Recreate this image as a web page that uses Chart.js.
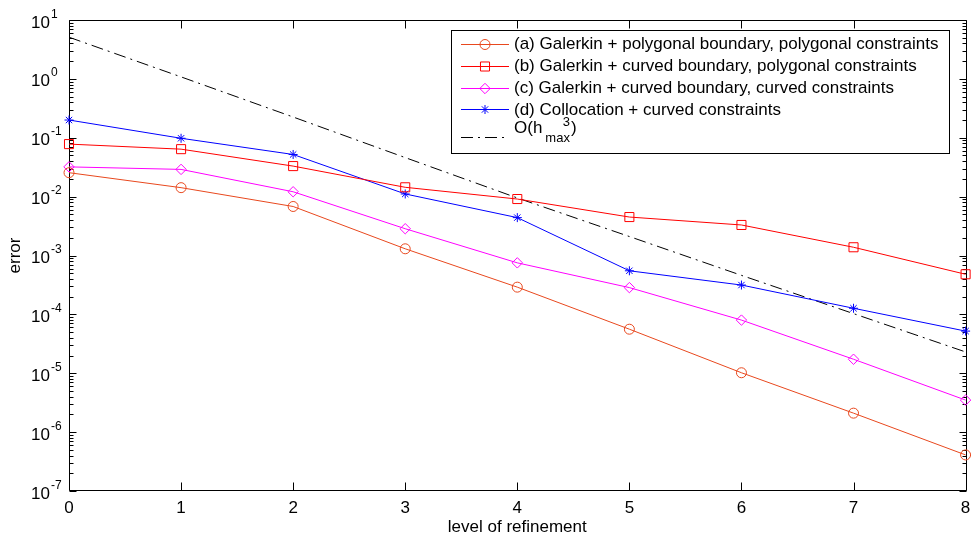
<!DOCTYPE html>
<html>
<head>
<meta charset="utf-8">
<style>
  html, body { margin: 0; padding: 0; background: #fff; }
</style>
<script src="https://cdn.jsdelivr.net/npm/chart.js@4.4.1/dist/chart.umd.min.js"></script>
</head>
<body>
<canvas id="errChart" width="973" height="537"></canvas>
<script>
// refinement levels and errors
const levels = [0, 1, 2, 3, 4, 5, 6, 7, 8];
const galerkinPolyPoly = [0.0255, 0.0142, 0.0068, 0.0013, 2.9e-4, 5.6e-5, 1.02e-5, 2.1e-6, 4.1e-7];
const galerkinCurvedPoly = [0.078, 0.064, 0.033, 0.0144, 0.0091, 0.0045, 0.0033, 0.00138, 4.8e-4];
const galerkinCurvedCurved = [0.032, 0.029, 0.0121, 0.00285, 7.5e-4, 2.85e-4, 8.0e-5, 1.73e-5, 3.5e-6];
const collocation = [0.2, 0.098, 0.052, 0.0111, 0.0044, 5.5e-4, 3.15e-4, 1.27e-4, 5.2e-5];
const orderRef = [5.1, 1.08, 0.225, 0.046, 0.0095, 0.0021, 4.6e-4, 1.03e-4, 2.3e-5];

const seriesNames = [
  '(a) Galerkin + polygonal boundary, polygonal constraints',
  '(b) Galerkin + curved boundary, polygonal constraints',
  '(c) Galerkin + curved boundary, curved constraints',
  '(d) Collocation + curved constraints'
];
const yExponents = [-7, -6, -5, -4, -3, -2, -1, 0, 1];

const FONT = '"Liberation Sans", Arial, Helvetica, sans-serif';
const DASHDOT = [12, 5, 2, 5];

function pts(vals) {
  return levels.map((l, i) => ({ x: l, y: vals[i] }));
}

function series(label, vals, color, style, r) {
  return {
    label: label,
    data: pts(vals),
    borderColor: color,
    borderWidth: 1,
    backgroundColor: 'rgba(0,0,0,0)',
    pointStyle: style,
    pointRadius: r,
    pointBorderColor: color,
    pointBackgroundColor: 'rgba(0,0,0,0)',
    pointBorderWidth: 1,
    tension: 0,
    clip: false
  };
}

function marker(ctx, style, x, y, r) {
  ctx.beginPath();
  if (style === 'circle') {
    ctx.arc(x, y, r, 0, Math.PI * 2);
  } else if (style === 'rect') {
    const s = r * Math.SQRT1_2;
    ctx.rect(x - s, y - s, 2 * s, 2 * s);
  } else if (style === 'rectRot') {
    ctx.moveTo(x - r, y); ctx.lineTo(x, y - r); ctx.lineTo(x + r, y); ctx.lineTo(x, y + r);
    ctx.closePath();
  } else if (style === 'star') {
    for (let k = 0; k < 4; k++) {
      const a = k * Math.PI / 4;
      ctx.moveTo(x - Math.cos(a) * r, y - Math.sin(a) * r);
      ctx.lineTo(x + Math.cos(a) * r, y + Math.sin(a) * r);
    }
  }
  ctx.stroke();
}

// matlab style box, inward ticks and tick labels
const axesPlugin = {
  id: 'matlabAxes',
  beforeDatasetsDraw(chart) {
    const { ctx, chartArea: a, scales: { x, y } } = chart;
    const L = Math.round(a.left) + 0.5, R = Math.round(a.right) + 0.5;
    const T = Math.round(a.top) + 0.5, B = Math.round(a.bottom) - 0.5;
    ctx.save();
    ctx.strokeStyle = '#000';
    ctx.lineWidth = 1;
    ctx.beginPath();
    ctx.rect(L, T, R - L, B - T);
    // x ticks
    levels.forEach(l => {
      const px = Math.round(x.getPixelForValue(l)) + 0.5;
      ctx.moveTo(px, B); ctx.lineTo(px, B - 8);
      ctx.moveTo(px, T); ctx.lineTo(px, T + 8);
    });
    // y ticks, major and minor
    yExponents.forEach(e => {
      const py = Math.round(y.getPixelForValue(Math.pow(10, e))) + 0.5;
      ctx.moveTo(L, py); ctx.lineTo(L + 7, py);
      ctx.moveTo(R, py); ctx.lineTo(R - 7, py);
      if (e < 1) {
        for (let k = 2; k <= 9; k++) {
          const pm = Math.round(y.getPixelForValue(k * Math.pow(10, e))) + 0.5;
          ctx.moveTo(L, pm); ctx.lineTo(L + 4, pm);
          ctx.moveTo(R, pm); ctx.lineTo(R - 4, pm);
        }
      }
    });
    ctx.stroke();

    ctx.fillStyle = '#000';
    ctx.textBaseline = 'alphabetic';
    // x tick labels
    ctx.font = '17px ' + FONT;
    ctx.textAlign = 'center';
    levels.forEach(l => {
      ctx.fillText(String(l), x.getPixelForValue(l), a.bottom + 21.5);
    });
    ctx.fillText('level of refinement', (a.left + a.right) / 2, a.bottom + 41);

    // y tick labels 10^e
    ctx.textAlign = 'left';
    yExponents.forEach(e => {
      const py = y.getPixelForValue(Math.pow(10, e));
      const x0 = a.left - 38;
      ctx.font = '17px ' + FONT;
      ctx.fillText('10', x0, py + 7.5);
      const w = ctx.measureText('10').width;
      ctx.font = '12px ' + FONT;
      ctx.fillText(String(e), x0 + w + 1, py - 2.5);
    });

    // y title
    ctx.save();
    ctx.translate(20, (a.top + a.bottom) / 2);
    ctx.rotate(-Math.PI / 2);
    ctx.font = '17px ' + FONT;
    ctx.textAlign = 'center';
    ctx.fillText('error', 0, 0);
    ctx.restore();
    ctx.restore();
  },
  afterDraw(chart) {
    const { ctx, chartArea: a } = chart;
    const ds = chart.data.datasets;
    ctx.save();
    ctx.font = '17px ' + FONT;
    let maxW = 0;
    seriesNames.forEach(s => { maxW = Math.max(maxW, ctx.measureText(s).width); });
    const right = Math.round(a.right) - 17 + 0.5;
    const top = Math.round(a.top) + 10 + 0.5;
    const left = Math.round(right - (maxW + 74));
    const left5 = left + 0.5;
    const h = 123;
    ctx.fillStyle = '#fff';
    ctx.fillRect(left5, top, right - left5, h);
    ctx.strokeStyle = '#000';
    ctx.lineWidth = 1;
    ctx.strokeRect(left5, top, right - left5, h);

    const textX = left + 63;
    ctx.textBaseline = 'middle';
    ctx.textAlign = 'left';
    for (let i = 0; i < 4; i++) {
      const d = ds[i];
      const ry = top + 13.5 + 21.8 * i;
      ctx.strokeStyle = d.borderColor;
      ctx.beginPath();
      ctx.moveTo(left + 10, Math.round(ry) + 0.5);
      ctx.lineTo(left + 58, Math.round(ry) + 0.5);
      ctx.stroke();
      marker(ctx, d.pointStyle, left + 34, Math.round(ry) + 0.5, d.pointRadius);
      ctx.fillStyle = '#000';
      ctx.fillText(seriesNames[i], textX, ry + 0.5);
    }
    // reference slope entry O(h^3_max)
    const ly = Math.round(top + 106) + 0.5;
    ctx.strokeStyle = '#000';
    ctx.setLineDash(DASHDOT);
    ctx.beginPath();
    ctx.moveTo(left + 10, ly);
    ctx.lineTo(left + 58, ly);
    ctx.stroke();
    ctx.setLineDash([]);
    const base = top + 102.5;
    ctx.textBaseline = 'alphabetic';
    ctx.fillStyle = '#000';
    ctx.font = '17px ' + FONT;
    ctx.fillText('O(h', textX, base);
    const x1 = textX + ctx.measureText('O(h').width + 3;
    ctx.font = '13px ' + FONT;
    const wMax = ctx.measureText('max').width;
    ctx.fillText('max', x1, base + 8.5);
    ctx.fillText('3', x1 + wMax - ctx.measureText('3').width, base - 7);
    ctx.font = '17px ' + FONT;
    ctx.fillText(')', x1 + wMax + 1, base);
    ctx.restore();
  }
};

const refSet = {
  label: 'O(h^3_max)',
  data: pts(orderRef),
  borderColor: '#000',
  borderWidth: 1,
  borderDash: DASHDOT,
  pointRadius: 0,
  tension: 0,
  clip: false
};

new Chart(document.getElementById('errChart'), {
  type: 'line',
  data: {
    datasets: [
      series(seriesNames[0], galerkinPolyPoly, '#e8481e', 'circle', 5),
      series(seriesNames[1], galerkinCurvedPoly, '#ff0000', 'rect', 6.4),
      series(seriesNames[2], galerkinCurvedCurved, '#ff00ff', 'rectRot', 5.2),
      series(seriesNames[3], collocation, '#0000ff', 'star', 4.5),
      refSet
    ]
  },
  options: {
    responsive: false,
    animation: false,
    devicePixelRatio: 1,
    layout: { padding: { left: 69, top: 20, right: 3, bottom: 46 } },
    plugins: { legend: { display: false }, tooltip: { enabled: false } },
    scales: {
      x: { type: 'linear', min: 0, max: 8, display: false },
      y: { type: 'logarithmic', min: 1e-7, max: 10, display: false }
    }
  },
  plugins: [axesPlugin]
});
</script>
</body>
</html>
